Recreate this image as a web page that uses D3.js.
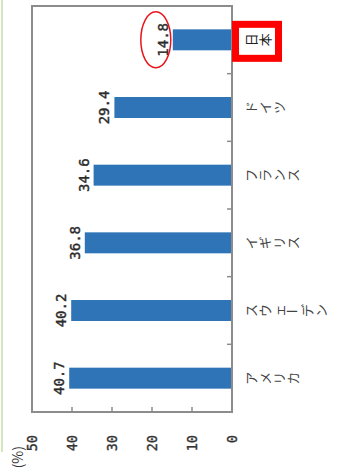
<!DOCTYPE html>
<html><head><meta charset="utf-8">
<script src="https://cdn.jsdelivr.net/npm/d3@7"></script>
<style>html,body{margin:0;padding:0;background:#fff;}svg{display:block;}</style>
</head><body>
<script>
const categories = ["日本", "ドイツ", "フランス", "イギリス", "スウェーデン", "アメリカ"];
const values = [14.8, 29.4, 34.6, 36.8, 40.2, 40.7];
const valueLabels = ["14.8", "29.4", "34.6", "36.8", "40.2", "40.7"];
const tickValues = [0, 10, 20, 30, 40, 50];
const unitLabel = "(%)";
const highlight = "日本";

const W = 339, H = 468;
const svg = d3.select("body").append("svg").attr("width", W).attr("height", H);

// left decorative green line
svg.append("line").attr("x1", 2).attr("x2", 2).attr("y1", 0).attr("y2", 452)
  .attr("stroke", "#d3e6bd").attr("stroke-width", 2);

const x = d3.scaleLinear().domain([0, 50]).range([232, 32]);
const y = d3.scaleBand().domain(categories).range([6, 412]).padding(0);
const barH = y.bandwidth() * 0.31;

const [x0, x50] = [x(0), x(50)];
const [yTop, yBot] = y.range();

// bars
svg.selectAll("rect.bar").data(categories).enter().append("rect")
  .attr("class", "bar")
  .attr("x", (d, i) => x(values[i]))
  .attr("width", (d, i) => x(0) - x(values[i]))
  .attr("y", d => y(d) + y.bandwidth() / 2 - barH / 2)
  .attr("height", barH)
  .attr("fill", "#2e74b6");

// frame
svg.append("rect").attr("x", x50).attr("y", yTop).attr("width", x0 - x50).attr("height", yBot - yTop)
  .attr("fill", "none").attr("stroke", "#8c8c8c").attr("stroke-width", 2);

// value axis ticks (bottom, inward)
svg.selectAll("line.vt").data(tickValues.filter(t => t > 0 && t < 50)).enter().append("line")
  .attr("x1", d => x(d)).attr("x2", d => x(d)).attr("y1", yBot).attr("y2", yBot - 5)
  .attr("stroke", "#8c8c8c").attr("stroke-width", 1.5);

// category boundary ticks (right, inward)
svg.selectAll("line.ct").data(categories.slice(1)).enter().append("line")
  .attr("x1", x0).attr("x2", x0 - 5).attr("y1", d => y(d)).attr("y2", d => y(d))
  .attr("stroke", "#8c8c8c").attr("stroke-width", 1.5);

// tick labels
svg.selectAll("text.tl").data(tickValues).enter().append("text")
  .attr("transform", d => `translate(${x(d)},435) rotate(-90)`)
  .attr("text-anchor", "end").attr("dy", "0.35em")
  .attr("font-family", "'DejaVu Sans Mono', monospace").attr("font-size", 13.5)
  .attr("fill", "#333").attr("stroke", "#333").attr("stroke-width", 0.4).text(d => d);

// unit label
svg.append("text").attr("transform", `translate(18,446) rotate(-90)`)
  .attr("text-anchor", "end").attr("dy", "0.35em")
  .attr("font-family", "'Noto Sans CJK JP', sans-serif").attr("font-size", 14)
  .attr("fill", "#333").text(unitLabel);

// value labels
svg.selectAll("text.vl").data(categories).enter().append("text")
  .attr("transform", (d, i) => `translate(${x(values[i]) - 5},${y(d) + y.bandwidth() / 2}) rotate(-90)`)
  .attr("text-anchor", "middle")
  .attr("font-family", "'DejaVu Sans Mono', monospace").attr("font-size", 14)
  .attr("fill", "#2a2a2a").attr("stroke", "#2a2a2a").attr("stroke-width", 0.4)
  .text((d, i) => valueLabels[i]);

// category labels: vertical text rotated, per character
const step = 14;
categories.forEach(c => {
  const cy = y(c) + y.bandwidth() / 2;
  const g = svg.append("g");
  Array.from(c).forEach((ch, j) => {
    const cx = x0 + 12 + step * j + step / 2 - 1;
    g.append("text")
      .attr("transform", ch === "ー" ? `translate(${cx},${cy})` : `translate(${cx},${cy}) rotate(-90)`)
      .attr("text-anchor", "middle").attr("dominant-baseline", "central")
      .attr("font-family", "'Noto Sans CJK JP', sans-serif").attr("font-size", 13)
      .attr("fill", c === highlight ? "#222" : "#444").text(ch);
  });
});

// highlight marks
const hi = categories.indexOf(highlight);
const hcy = y(highlight) + y.bandwidth() / 2;
svg.append("ellipse").attr("cx", x(values[hi]) - 17).attr("cy", hcy)
  .attr("rx", 15).attr("ry", 28).attr("fill", "none").attr("stroke", "#e8141b").attr("stroke-width", 1.5);
svg.append("rect").attr("x", x0 + 3.5).attr("y", hcy - 15.5).attr("width", 43).attr("height", 34)
  .attr("fill", "none").attr("stroke", "#ff0000").attr("stroke-width", 7);
</script>
</body></html>
